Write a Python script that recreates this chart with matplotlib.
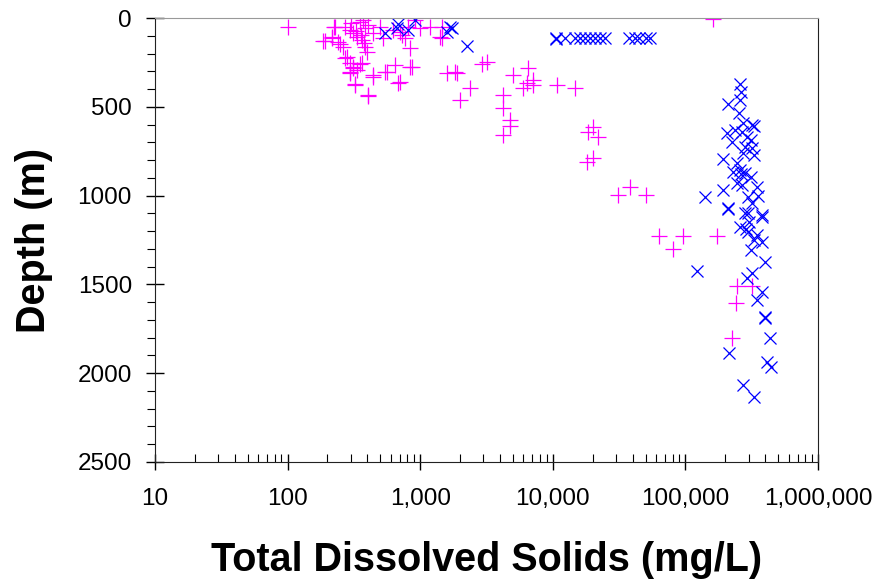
import matplotlib
matplotlib.use("Agg")
import matplotlib.pyplot as plt
from matplotlib.ticker import FuncFormatter, LogLocator, MultipleLocator

plt.rcParams['font.family'] = ['Liberation Sans', 'DejaVu Sans']

# magenta "+" series: TDS (mg/L) and depth (m)
plus_tds = [100, 191, 224, 215, 250, 280, 310, 295, 322, 405, 440, 350,
            185, 216, 240, 260, 228, 270, 295, 310, 333, 363, 385, 370, 405,
            440, 385, 397, 270, 295, 310, 363, 295, 333, 322, 440, 405,
            542, 650, 680, 840, 840, 730, 520, 500, 620, 810, 1000, 1400,
            560, 700, 870, 770, 700, 920, 1180, 1460, 1460, 1600, 1840, 1900,
            2390, 1990, 2940, 3200, 4200, 4200, 4750, 4750, 4200, 5000, 6500,
            6000, 6400, 7100, 7100, 10800, 14700, 18500, 20000, 22000, 18000,
            20000, 31000, 38000, 50000, 160000, 63000, 95800, 80000, 174000,
            246000, 316000, 240000, 223000, 350, 330, 360, 300, 380]
plus_depth = [50, 130, 50, 113, 146, 220, 276, 310, 372, 433, 321, 259,
              130, 107, 135, 163, 50, 50, 68, 85, 107, 124, 56, 11, 39,
              85, 163, 191, 225, 253, 282, 253, 304, 293, 377, 332, 439,
              304, 265, 366, 276, 169, 96, 113, 50, 68, 50, 56, 107,
              304, 360, 276, 113, 79, 11, 50, 50, 113, 310, 304, 310,
              394, 462, 259, 248, 433, 507, 574, 608, 659, 321, 282,
              394, 366, 349, 380, 377, 394, 642, 614, 670, 811,
              788, 997, 951, 997, 6, 1228, 1228, 1301, 1228,
              1509, 1509, 1605, 1802, 20, 75, 95, 30, 140]

# blue "x" series
x_tds = [542, 680, 670, 810, 910, 1600, 1680, 1740, 2250, 10500,
         10500, 12400, 14700, 16000, 17600, 19000, 20800, 22700, 24700,
         37300, 41500, 45000, 50000, 54000,
         258000, 263000, 258000, 210000, 252000, 270000, 320000, 330000,
         205000, 237000, 265000, 290000, 310000, 225000, 280000, 320000,
         270000, 330000, 192000, 245000, 258000, 280000, 228000, 310000,
         345000, 245000, 192000, 140000, 210000, 295000, 315000, 295000,
         375000, 265000, 210000, 280000, 375000, 258000, 295000, 345000,
         375000, 310000, 400000, 122000, 290000, 320000, 380000, 345000,
         395000, 395000, 435000, 213000, 410000, 440000, 270000, 330000,
         300000, 285000, 350000, 260000, 330000]
x_depth = [85, 34, 56, 68, 11, 79, 50, 56, 158, 118,
           113, 113, 113, 113, 113, 113, 113, 113, 113,
           110, 110, 110, 110, 110,
           372, 417, 462, 484, 535, 591, 602, 608,
           647, 630, 642, 670, 687, 698, 726, 732,
           760, 771, 794, 816, 856, 873, 867, 895,
           951, 929, 968, 1008, 1070, 1008, 1042, 1098,
           1109, 940, 1075, 1098, 1120, 1177, 1205, 1222,
           1261, 1306, 1374, 1424, 1464, 1436, 1543, 1588,
           1683, 1689, 1802, 1886, 1937, 1965, 2066, 2134,
           1150, 1190, 1000, 880, 1250]

fig = plt.figure(figsize=(8.75, 5.81), dpi=100)
ax = fig.add_axes([0.177, 0.205, 0.758, 0.764])

ax.plot(plus_tds, plus_depth, linestyle="none", marker="+", color="#FF00FF",
        markersize=11, markeredgewidth=0.9)
ax.plot(x_tds, x_depth, linestyle="none", marker="x", color="#0000FF",
        markersize=9, markeredgewidth=0.9)

ax.set_xscale("log")
ax.set_xlim(10, 1000000)
ax.set_ylim(2500, 0)

ax.xaxis.set_major_locator(LogLocator(base=10, numticks=10))
ax.xaxis.set_minor_locator(LogLocator(base=10, subs=range(2, 10), numticks=50))
ax.xaxis.set_major_formatter(FuncFormatter(lambda v, p: f"{int(round(v)):,}"))
ax.yaxis.set_major_locator(MultipleLocator(500))
ax.yaxis.set_minor_locator(MultipleLocator(100))

ax.tick_params(axis="x", which="major", direction="inout", length=12, width=1,
               labelsize=17.5, pad=13)
ax.tick_params(axis="x", which="minor", direction="in", length=6, width=0.8)
ax.tick_params(axis="y", which="major", direction="inout", length=13, width=1,
               labelsize=17.5, pad=10)
ax.tick_params(axis="y", which="minor", direction="out", length=6, width=0.8)

ax.spines["top"].set_color("#999999")
for s in ["left", "bottom", "right"]:
    ax.spines[s].set_color("#222222")

ax.set_xlabel("Total Dissolved Solids (mg/L)", fontsize=28.5, fontweight="bold",
              labelpad=22)
ax.set_ylabel("Depth (m)", fontsize=28.5, fontweight="bold", labelpad=18)

fig.savefig("out.png", dpi=100)
